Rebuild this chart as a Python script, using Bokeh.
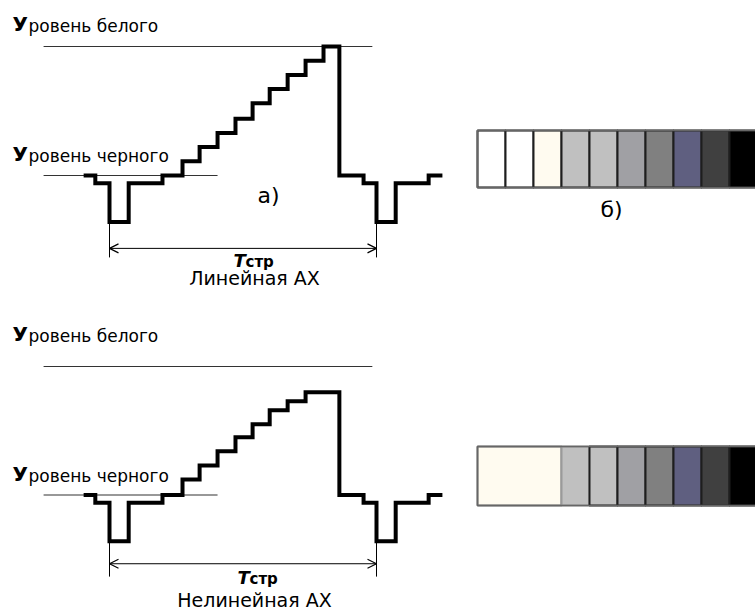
from bokeh.plotting import figure
from bokeh.models import Range1d, Label, Arrow, OpenHead
from bokeh.layouts import column
from bokeh.embed import file_html
from bokeh.resources import INLINE

# ---------------- data ----------------
line_period_us = 64.0          # T_стр, one TV line
black_level = 0                # "Уровень черного"
white_level = 100              # "Уровень белого"
sync_level = -36
arrow_level_top = -56.5
arrow_level_bot = -53.5
ext_level = -63.5

# step-edge times (µs) and signal level after each edge (% of black->white)
edge_t_linear = [-6.2, -3.4, 0.0, 4.6, 12.7, 17.5, 21.6, 25.9, 30.2, 34.3,
                 38.4, 42.7, 47.0, 51.3, 55.1, 60.9, 64.0, 68.6, 76.5, 79.8]
level_linear = [0, -6, -36, -6, 0, 11, 22, 33, 44, 56,
                67, 78, 89, 100, 0, -6, -36, -6, 0, 0]

edge_t_nonlinear = [-6.2, -3.4, 0.0, 4.6, 12.7, 17.5, 21.6, 25.9, 30.2, 34.3,
                    38.4, 42.7, 47.0, 55.1, 60.9, 64.0, 68.6, 76.5, 79.8]
level_nonlinear = [0, -6, -36, -6, 0, 12, 23, 34, 45, 55,
                   66, 73, 80, 0, -6, -36, -6, 0, 0]

white_line_t = [-15.8, 63.0]
black_line_t = [-15.8, 25.9]

# grey-scale swatches (б)
swatch_linear = ["#FFFFFF", "#FFFFFF", "#FFFBF0", "#C0C0C0", "#C0C0C0",
                 "#A0A0A4", "#808080", "#5F5F80", "#404040", "#000000"]
span_linear = [1, 1, 1, 1, 1, 1, 1, 1, 1, 1]
edge_linear = ["#1E1E1E"] * 10

swatch_nonlinear = ["#FFFBF0", "#C0C0C0", "#C0C0C0", "#A0A0A4",
                    "#808080", "#5F5F80", "#404040", "#000000"]
span_nonlinear = [3, 1, 1, 1, 1, 1, 1, 1]
edge_nonlinear = ["#777777", "#9A9A9A", "#1E1E1E", "#1E1E1E",
                  "#1E1E1E", "#1E1E1E", "#1E1E1E", "#1E1E1E"]

label_white = ("У", "ровень белого")
label_black = ("У", "ровень черного")
period_symbol = ("T", "стр")
caption_linear = "Линейная АХ"
caption_nonlinear = "Нелинейная АХ"
panel_a = "а)"
panel_b = "б)"

FONT = "DejaVu Sans"

# ---------------- layout (page pixels) ----------------
PAGE_L, PAGE_R = 0, 755
W = PAGE_R - PAGE_L
T0_PX, T64_PX = 109, 376
BAR_X0_PX, BAR_CELL_PX = 477, 28.0


def make_panel(page_top, page_bottom, black_py, white_py, edges, levels,
               sw_colors, sw_spans, sw_edges, bar_top_py, bar_bot_py,
               arrow_lvl, lbl_white_py, lbl_black_py, sym_px, sym_py, cap_py,
               caption, panel_lbl=None):
    px_us = (T64_PX - T0_PX) / line_period_us
    px_lvl = (black_py - white_py) / (white_level - black_level)

    def tx(px):
        return (px - T0_PX) / px_us

    def ly(py):
        return (black_py - py) / px_lvl

    p = figure(width=W, height=page_bottom - page_top,
               x_range=Range1d(tx(PAGE_L), tx(PAGE_R)),
               y_range=Range1d(ly(page_bottom), ly(page_top)),
               x_axis_type=None, y_axis_type=None,
               output_backend="svg", toolbar_location=None,
               min_border=0, outline_line_color=None)
    p.grid.visible = False
    bar_h = bar_bot_py - bar_top_py
    p.extra_x_ranges = {"bars": Range1d((PAGE_L - BAR_X0_PX) / BAR_CELL_PX,
                                        (PAGE_R - BAR_X0_PX) / BAR_CELL_PX)}
    p.extra_y_ranges = {"bars": Range1d((bar_bot_py - page_bottom) / bar_h,
                                        (bar_bot_py - page_top) / bar_h)}

    # reference level lines
    p.line(white_line_t, [white_level] * 2, line_color="#333333", line_width=1.2)
    p.line(black_line_t, [black_level] * 2, line_color="#333333", line_width=1.2)

    # video signal
    p.step(edges, levels, mode="after", line_color="black", line_width=4,
           line_join="miter")

    # period dimension
    p.segment(x0=[0, line_period_us], y0=[sync_level] * 2,
              x1=[0, line_period_us], y1=[ext_level] * 2,
              line_color="black", line_width=1)
    p.add_layout(Arrow(x_start=0, y_start=arrow_lvl, x_end=line_period_us,
                       y_end=arrow_lvl, line_width=1, line_color="black",
                       start=OpenHead(size=9, line_width=1.2),
                       end=OpenHead(size=9, line_width=1.2)))

    # swatches
    lefts, rights = [], []
    acc = 0
    for s in sw_spans:
        lefts.append(acc)
        acc += s
        rights.append(acc)
    p.quad(left=lefts, right=rights, bottom=[0] * len(lefts), top=[1] * len(lefts),
           fill_color=sw_colors, line_color=sw_edges, line_width=2,
           x_range_name="bars", y_range_name="bars")
    p.quad(left=[0], right=[acc], bottom=[0], top=[1], fill_color=None,
           line_color="#666666", line_width=1.5,
           x_range_name="bars", y_range_name="bars")

    def add_text(txt, px, py, size, style="normal", align="left"):
        p.add_layout(Label(x=tx(px), y=ly(py), text=txt, text_font=FONT,
                           text_font_size=size, text_font_style=style,
                           text_align=align, text_color="black"))

    add_text(label_white[0], 12, lbl_white_py, "20px", "bold")
    add_text(label_white[1], 28, lbl_white_py, "17px")
    add_text(label_black[0], 12, lbl_black_py, "20px", "bold")
    add_text(label_black[1], 28, lbl_black_py, "17px")
    add_text(period_symbol[0], sym_px, sym_py, "18px", "bold italic")
    add_text(period_symbol[1], sym_px + 12, sym_py, "15px", "bold")
    add_text(caption, 254, cap_py, "19px", align="center")
    if panel_lbl is not None:
        add_text(panel_lbl, 268, 207, "22px", align="center")
        add_text(panel_b, 611, 221, "22px", align="center")
    return p


top = make_panel(0, 306, 175, 46, edge_t_linear, level_linear,
                 swatch_linear, span_linear, edge_linear, 130, 187,
                 arrow_level_top, 35, 165, 233, 270, 288, caption_linear, panel_a)
bottom = make_panel(306, 612, 494.5, 366, edge_t_nonlinear, level_nonlinear,
                    swatch_nonlinear, span_nonlinear, edge_nonlinear, 446, 505,
                    arrow_level_bot, 345, 485, 237, 587, 610, caption_nonlinear)

layout = column(top, bottom, spacing=0)
open("out.html", "w").write(file_html(layout, INLINE))
